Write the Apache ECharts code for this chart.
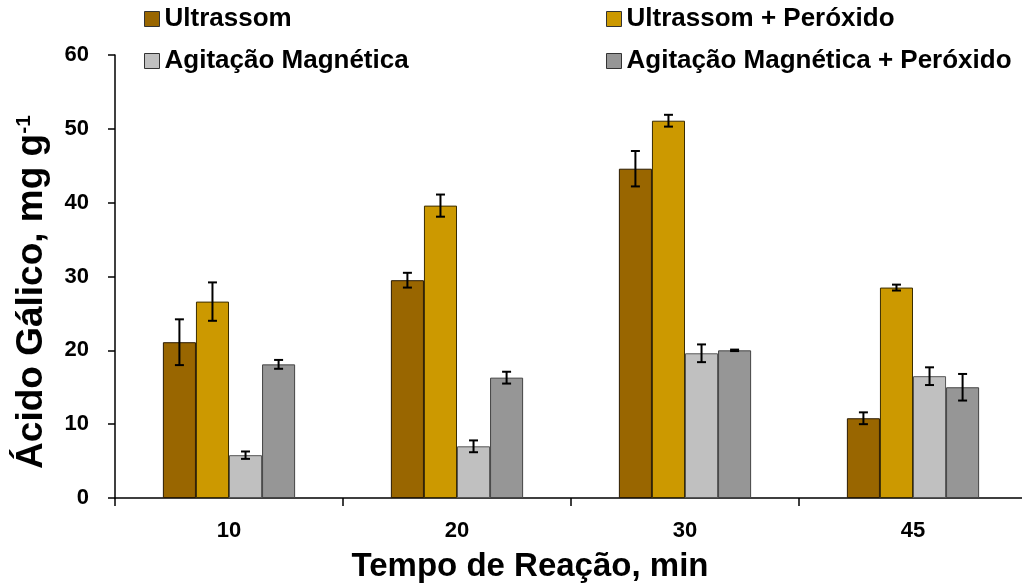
<!DOCTYPE html>
<html>
<head>
<meta charset="utf-8">
<script src="https://cdn.jsdelivr.net/npm/echarts@6/dist/echarts.min.js"></script>
<style>
  html, body { margin: 0; padding: 0; background: #fff; }
  #chart { width: 1022px; height: 586px; }
</style>
</head>
<body>
<div id="chart"></div>
<script>
// Reaction times (min)
const categories = ['10', '20', '30', '45'];

// Gallic acid yield, mg g-1 (means)
const ultrassom        = [21.1, 29.5, 44.6, 10.8];
const ultrassomPerox   = [26.6, 39.6, 51.1, 28.5];
const agitacao         = [5.8, 7.0, 19.6, 16.5];
const agitacaoPerox    = [18.1, 16.3, 20.0, 15.0];

// Standard deviations
const ultrassomErr      = [3.1, 1.0, 2.4, 0.8];
const ultrassomPeroxErr = [2.6, 1.5, 0.8, 0.4];
const agitacaoErr       = [0.5, 0.8, 1.2, 1.2];
const agitacaoPeroxErr  = [0.6, 0.8, 0.1, 1.8];

const seriesNames = ['Ultrassom', 'Ultrassom + Peróxido', 'Agitação Magnética', 'Agitação Magnética + Peróxido'];
const seriesColors = ['#996600', '#CC9900', '#C0C0C0', '#969696'];
const seriesBorders = ['#2a1a00', '#3a2c00', '#555555', '#444444'];
const means = [ultrassom, ultrassomPerox, agitacao, agitacaoPerox];
const errs = [ultrassomErr, ultrassomPeroxErr, agitacaoErr, agitacaoPeroxErr];

const CAT_GAP = 0.42;   // fraction of a category left empty
const FONT = '"Liberation Sans", Arial, sans-serif';

const barSeries = seriesNames.map((name, i) => ({
  name: name,
  type: 'bar',
  data: means[i],
  barGap: '0%',
  barCategoryGap: (CAT_GAP * 100) + '%',
  itemStyle: { color: seriesColors[i], borderColor: seriesBorders[i], borderWidth: 1 },
  z: 2
}));

// Error bars drawn on top of each group of bars
const errorSeries = seriesNames.map((name, i) => ({
  name: name + ' err',
  type: 'custom',
  z: 5,
  silent: true,
  data: means[i].map((m, k) => [k, m - errs[i][k], m + errs[i][k]]),
  encode: { x: 0, y: [1, 2] },
  renderItem: function (params, api) {
    const k = api.value(0);
    const lo = api.coord([k, api.value(1)]);
    const hi = api.coord([k, api.value(2)]);
    const catW = api.size([1, 0])[0];
    const bw = catW * (1 - CAT_GAP) / 4;
    const x = lo[0] - catW * (1 - CAT_GAP) / 2 + bw * (i + 0.5);
    const cap = 4.5;
    const style = { stroke: '#000', lineWidth: 2, fill: null };
    return {
      type: 'group',
      children: [
        { type: 'line', shape: { x1: x, y1: lo[1], x2: x, y2: hi[1] }, style: style },
        { type: 'line', shape: { x1: x - cap, y1: lo[1], x2: x + cap, y2: lo[1] }, style: style },
        { type: 'line', shape: { x1: x - cap, y1: hi[1], x2: x + cap, y2: hi[1] }, style: style }
      ]
    };
  }
}));

const legendPos = [
  { left: 144, top: 6 },
  { left: 606, top: 6 },
  { left: 144, top: 48 },
  { left: 606, top: 48 }
];

const chart = echarts.init(document.getElementById('chart'), null, { renderer: 'canvas' });
chart.setOption({
  animation: false,
  backgroundColor: '#ffffff',
  textStyle: { fontFamily: FONT },
  legend: seriesNames.map((name, i) => ({
    data: [name],
    left: legendPos[i].left,
    top: legendPos[i].top,
    itemWidth: 15,
    itemHeight: 15,
    itemGap: 4,
    padding: 0,
    icon: 'rect',
    selectedMode: false,
    itemStyle: { borderColor: '#333', borderWidth: 1 },
    textStyle: { fontFamily: FONT, fontSize: 26, fontWeight: 'bold', color: '#000', padding: [0, 0, 0, 0] }
  })),
  grid: { left: 115, right: -5, top: 55, bottom: 88, containLabel: false, outerBoundsMode: 'none' },
  xAxis: {
    type: 'category',
    data: categories,
    axisLine: { lineStyle: { color: '#000', width: 1.5 } },
    axisTick: { show: true, length: 8, inside: false, lineStyle: { color: '#000', width: 1.5 } },
    axisLabel: { fontFamily: FONT, fontSize: 22, fontWeight: 'bold', color: '#000', margin: 22 }
  },
  yAxis: {
    type: 'value',
    min: 0,
    max: 60,
    interval: 10,
    splitLine: { show: false },
    axisLine: { show: true, lineStyle: { color: '#000', width: 1.5 } },
    axisTick: { show: true, length: 7, inside: false, lineStyle: { color: '#000', width: 1.5 } },
    axisLabel: { fontFamily: FONT, fontSize: 22, fontWeight: 'bold', color: '#000', margin: 26 }
  },
  graphic: [
    {
      type: 'text',
      x: 530,
      y: 567,
      style: {
        text: 'Tempo de Reação, min',
        font: 'bold 33px ' + FONT,
        fill: '#000',
        align: 'center',
        verticalAlign: 'middle'
      }
    },
    {
      type: 'text',
      x: 32,
      y: 292,
      rotation: Math.PI / 2,
      style: {
        text: '{b|Ácido Gálico, mg g}{s|-1}',
        align: 'center',
        verticalAlign: 'middle',
        rich: {
          b: { fontFamily: FONT, fontSize: 37, fontWeight: 'bold', fill: '#000', color: '#000' },
          s: { fontFamily: FONT, fontSize: 21, fontWeight: 'bold', fill: '#000', color: '#000', verticalAlign: 'top', padding: [0, 0, 16, 0] }
        }
      }
    }
  ],
  series: barSeries.concat(errorSeries)
});
</script>
</body>
</html>
